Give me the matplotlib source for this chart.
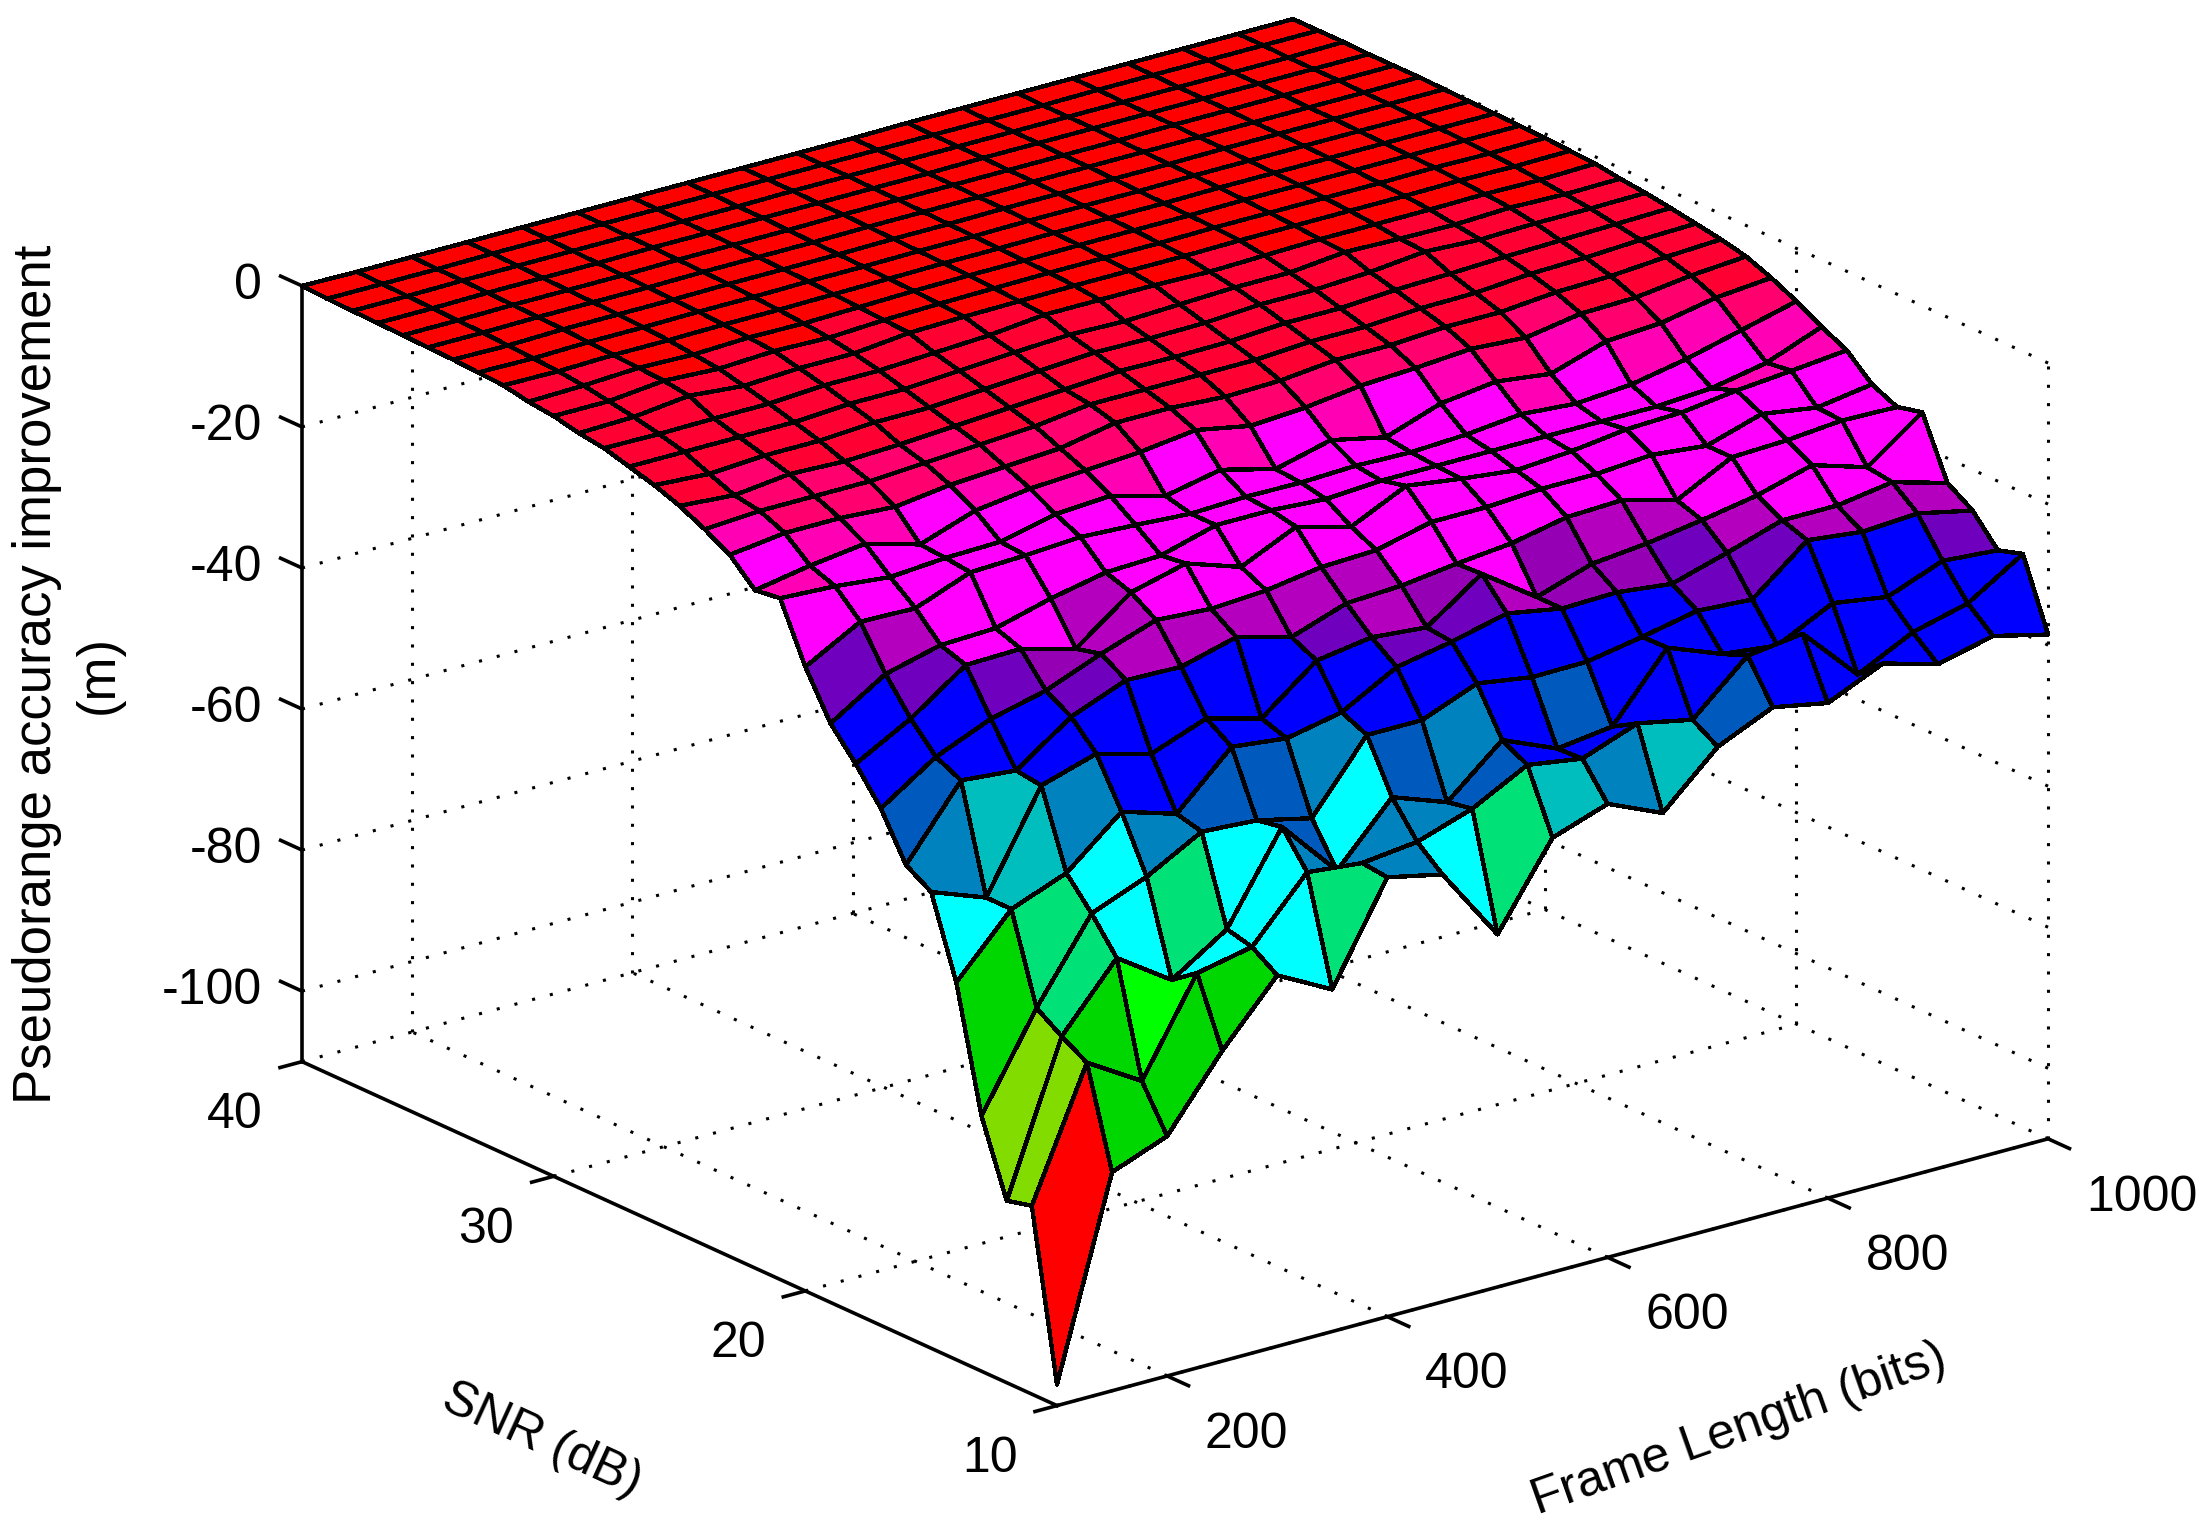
"""Pseudorange accuracy improvement over frame length and SNR, MATLAB style surface."""
import numpy as np
import matplotlib
matplotlib.use("Agg")
import matplotlib.pyplot as plt
from matplotlib.colors import BoundaryNorm, ListedColormap
from mpl_toolkits.mplot3d import proj3d

frame_length = [100, 150, 200, 250, 300, 350, 400, 450, 500, 550, 600, 650, 700, 750, 800, 850, 900, 950, 1000]
snr = [10, 11, 12, 13, 14, 15, 16, 17, 18, 19, 20, 21, 22, 23, 24, 25, 26, 27, 28, 29, 30,
       31, 32, 33, 34, 35, 36, 37, 38, 39, 40]

# one row per SNR value, one column per frame length
improvement = [
    [-107, -79, -76, -66, -57.4, -61.5, -47.7, -49.4, -60, -48.4, -45.7, -49.1, -41.8, -38.3, -39.8, -36.3, -38.5, -36.6, -38.5],
    [-83.3, -65.1, -69.8, -56.6, -55, -46.5, -47.3, -46.4, -43.8, -39.7, -40.9, -38, -39.6, -32.6, -31.6, -39.5, -35.6, -33.6, -28.7],
    [-84.2, -63, -54, -59.2, -54.1, -41.7, -50, -41.7, -44.5, -37.8, -41.1, -40.1, -31, -34, -34.9, -31, -32.2, -29.2, -29.8],
    [-73.8, -60.6, -49.3, -46.2, -41.9, -42.4, -44.2, -34.5, -34.5, -31.4, -32.6, -32.5, -31.1, -29.5, -30, -23.7, -24.6, -24.1, -25.8],
    [-56.5, -48.2, -45.2, -38.6, -41, -33.6, -34.5, -32.9, -28.6, -27.1, -25.2, -26.6, -26.4, -27.3, -25, -22.5, -22.5, -21.3, -23.5],
    [-45.3, -48.2, -34.4, -32, -34.1, -31.2, -33.3, -27.2, -26, -26.7, -21.2, -26.6, -24, -23.2, -22, -20.6, -18.4, -20.8, -15.1],
    [-43.1, -33.2, -33.9, -28.4, -25.3, -25.5, -23.4, -25.5, -22.8, -22.4, -21.4, -20.6, -19, -18.7, -20.8, -16.8, -16.5, -15.8, -16],
    [-36.7, -31.5, -28.2, -26.3, -23.2, -20.5, -21, -20.5, -19.3, -19, -17.1, -17.1, -16.6, -16.6, -16, -16.8, -14.4, -15.6, -14.4],
    [-32, -27.7, -22.2, -22, -24.1, -18.2, -16.2, -18.8, -15.2, -17.3, -13.6, -14.7, -15.6, -15, -14, -13.7, -12.7, -12, -11.2],
    [-27.9, -23, -21, -20.7, -18.6, -17, -16.7, -14.5, -14.5, -15, -14.5, -14.5, -14.5, -14.5, -14.5, -14.5, -14, -12.5, -9.5],
    [-21.5, -17.2, -17.4, -14.4, -14.1, -13.6, -14, -14.5, -14.2, -14.3, -14, -14.2, -13.8, -13, -13.6, -13, -11.5, -9.5, -7.5],
    [-13.4, -13.8, -14.6, -14, -13.8, -12, -11.5, -13.6, -12, -14, -12, -13.7, -11, -10, -11, -8.5, -8, -6.5, -5.8],
    [-13.9, -12.5, -11.5, -13.7, -11, -10, -9.5, -9, -8, -9.5, -9, -8, -7.6, -7, -7.5, -6.2, -6, -5, -4.4],
    [-10.5, -9.5, -9.5, -10, -9, -8.5, -8, -6.5, -6.5, -7, -6.8, -6, -6, -5.5, -5.5, -4.8, -4.6, -4, -3.6],
    [-8.5, -8, -8, -8, -7.5, -7, -6.5, -5.5, -5.5, -5.5, -5.5, -5, -5, -4.5, -4.4, -3.8, -3.6, -3.2, -3],
    [-6.8, -7.4, -6.5, -6.8, -6.5, -6, -5.5, -5, -4.5, -4.6, -4.5, -4, -4, -3.5, -3.3, -3, -2.8, -2.6, -2.4],
    [-5.5, -6, -5.5, -5.5, -5, -5, -4.5, -4, -3.5, -3.6, -3.5, -3, -3, -2.6, -1.8, -2.2, -2, -2, -1.9],
    [-4.5, -4.5, -4.5, -4.5, -4, -4, -3.5, -3, -2.6, -2.8, -2.5, -2.2, -2.2, -1.4, -1.6, -1.7, -1.4, -1.6, -1.5],
    [-3.5, -3.6, -3.5, -3.5, -3, -3, -2.6, -2.2, -1.4, -1.4, -1.4, -1.6, -1.4, -1.2, -1.2, -1.2, -1.1, -1.2, -1],
    [-3, -2.8, -1.9, -2.6, -2.2, -2.2, -1.4, -1.2, -1.1, -1, -1, -1, -0.9, -0.9, -0.9, -0.9, -0.8, -0.9, -0.8],
    [-2.2, -2.2, -1.4, -1.8, -1.4, -1.6, -1.2, -1, -0.9, -0.8, -0.8, -0.8, -0.7, -0.7, -0.7, -0.7, -0.6, -0.7, -0.6],
    [-1.8, -1.6, -1.2, -1.4, -1.1, -1.2, -1, -0.8, -0.7, -0.7, -0.6, -0.6, -0.6, -0.5, -0.5, -0.5, -0.5, -0.5, -0.5],
    [-1.1, -1.2, -1, -1, -0.9, -0.9, -0.8, -0.7, -0.6, -0.6, -0.5, -0.5, -0.5, -0.4, -0.4, -0.4, -0.4, -0.4, -0.4],
    [-0.9, -1, -0.8, -0.8, -0.7, -0.7, -0.6, -0.6, -0.5, -0.5, -0.4, -0.4, -0.4, -0.3, -0.3, -0.3, -0.3, -0.3, -0.3],
    [-0.7, -0.8, -0.6, -0.6, -0.6, -0.5, -0.5, -0.5, -0.4, -0.4, -0.3, -0.3, -0.3, -0.3, -0.2, -0.2, -0.2, -0.2, -0.2],
    [-0.6, -0.6, -0.5, -0.5, -0.5, -0.4, -0.4, -0.4, -0.3, -0.3, -0.3, -0.2, -0.2, -0.2, -0.2, -0.2, -0.2, -0.2, -0.1],
    [-0.5, -0.5, -0.4, -0.4, -0.4, -0.3, -0.3, -0.3, -0.2, -0.2, -0.2, -0.2, -0.2, -0.2, -0.1, -0.1, -0.1, -0.1, -0.1],
    [-0.4, -0.4, -0.3, -0.3, -0.3, -0.2, -0.2, -0.2, -0.2, -0.2, -0.2, -0.1, -0.1, -0.1, -0.1, -0.1, -0.1, -0.1, -0.1],
    [-0.3, -0.3, -0.2, -0.2, -0.2, -0.2, -0.2, -0.2, -0.1, -0.1, -0.1, -0.1, -0.1, -0.1, -0.1, -0.1, -0.1, -0.1, 0],
    [-0.2, -0.2, -0.2, -0.1, -0.1, -0.1, -0.1, -0.1, -0.1, -0.1, -0.1, -0.1, -0.1, -0.1, 0, 0, 0, 0, 0],
    [0, -0.1, -0.1, -0.1, -0.1, -0.1, -0.1, -0.1, -0.1, -0.1, -0.1, 0, 0, 0, 0, 0, 0, 0, 0],
]

x_ticks = [200, 400, 600, 800, 1000]
y_ticks = [10, 20, 30, 40]
z_ticks = [0, -20, -40, -60, -80, -100]

# colour bins, low to high
level_edges = [-120, -100, -80, -72, -68, -64, -59, -49.2, -47.9, -44, -41, -30, -27, -26, -22.5,
               -13.5, -10, -7, -1.5, 1]
level_colors = ["#ff0000", "#82dc00", "#00d700", "#00ff00", "#00d700", "#00e178", "#00ffff", "#00bebe",
                "#0082be", "#005abe", "#0000ff", "#6e00be", "#9600b4", "#b400be", "#ff00ff",
                "#ff00b4", "#ff006e", "#ff0032", "#ff0000"]

XMIN, XMAX = 100, 1000
YMIN, YMAX = 10, 40
ZMIN, ZMAX = -110, 0

plt.rcParams["font.family"] = ["Liberation Sans", "DejaVu Sans"]
FS = 36

X, Y = np.meshgrid(frame_length, snr)
Z = np.array(improvement, dtype=float)
cmap = ListedColormap(level_colors)
norm = BoundaryNorm(level_edges, cmap.N)

W, H = 2204, 1529
fig = plt.figure(figsize=(W / 100, H / 100), dpi=100)
# square axes wider than the figure is tall, mplot3d clips to this box
rect_h = W / H
rect_y = (1 - rect_h) / 2
ax = fig.add_axes([0, rect_y, 1, rect_h], projection="3d", computed_zorder=False)
ax.set_proj_type("ortho")
ax.view_init(elev=20.5, azim=-127.55)
ax.set_xlim(XMIN, XMAX, view_margin=0)
ax.set_ylim(YMIN, YMAX, view_margin=0)
ax.set_zlim(ZMIN, ZMAX, view_margin=0)
ax.set_xticks([])
ax.set_yticks([])
ax.set_zticks([])
ax.set_axis_off()
aspect = (889, 881, 589)
ax.set_box_aspect(aspect)


def to_pixels(x, y, z):
    px, py, _ = proj3d.proj_transform(x, y, z, ax.get_proj())
    return ax.transData.transform((px, py))


# fit the box to the corners of the reference
front_target = np.array([1057.0, H - 1405.6])
right_target = np.array([2048.0, H - 1138.5])
ax.apply_aspect()
front = to_pixels(XMIN, YMIN, ZMIN)
right = to_pixels(XMAX, YMIN, ZMIN)
zoom = np.linalg.norm(right_target - front_target) / np.linalg.norm(right - front)
ax.set_box_aspect(aspect, zoom=zoom)
shift = front_target - to_pixels(XMIN, YMIN, ZMIN)
ax.set_position([shift[0] / W, rect_y + shift[1] / H, 1, rect_h])
ax.apply_aspect()

dotted = dict(color="k", lw=2.2, ls=(0, (1, 5)), zorder=1)
for t in x_ticks:
    ax.plot([t, t], [YMIN, YMAX], [ZMIN, ZMIN], **dotted)
    ax.plot([t, t], [YMAX, YMAX], [ZMIN, ZMAX], **dotted)
for t in y_ticks:
    ax.plot([XMIN, XMAX], [t, t], [ZMIN, ZMIN], **dotted)
    ax.plot([XMAX, XMAX], [t, t], [ZMIN, ZMAX], **dotted)
for t in z_ticks:
    ax.plot([XMIN, XMAX], [YMAX, YMAX], [t, t], **dotted)
    ax.plot([XMAX, XMAX], [YMIN, YMAX], [t, t], **dotted)

ax.plot_surface(X, Y, Z, rstride=1, cstride=1, facecolors=cmap(norm(Z)), shade=False,
                edgecolor="k", linewidth=2.4, antialiased=False, zorder=2)

solid = dict(color="k", lw=2.6, zorder=3, solid_capstyle="projecting")
ax.plot([XMIN, XMAX], [YMIN, YMIN], [ZMIN, ZMIN], **solid)
ax.plot([XMIN, XMIN], [YMIN, YMAX], [ZMIN, ZMIN], **solid)
ax.plot([XMIN, XMIN], [YMAX, YMAX], [ZMIN, ZMAX], **solid)

tick = dict(color="k", lw=2.6, zorder=3)
for t in x_ticks:
    ax.plot([t, t], [YMIN, YMIN - 0.85], [ZMIN, ZMIN], **tick)
    ax.text(t, YMIN - 1.5, ZMIN - 5.9, str(t), ha="left", va="center", fontsize=FS)
for t in y_ticks:
    ax.plot([XMIN, XMIN - 20], [t, t], [ZMIN, ZMIN], **tick)
    ax.text(XMIN - 61, t, ZMIN - 5, str(t), ha="center", va="center", fontsize=FS)
for t in z_ticks:
    ax.plot([XMIN, XMIN], [YMAX, YMAX + 0.85], [t, t], **tick)
    ax.text(XMIN - 36, YMAX, t + 1.5, str(t), ha="right", va="center", fontsize=FS)

# text angle in mplot3d comes from zdir, the small z part tilts the label past the box edge
ax.text(550, 2.57, -120.2, "Frame Length (bits)", zdir=(1, 0, 0.0132), ha="center", va="center", fontsize=FS)
ax.text(-25, 25, -134, "SNR (dB)", zdir=(0, -1, 0), ha="center", va="center", fontsize=FS)
ax.text(-113, YMAX, -46.1, "Pseudorange accuracy improvement\n(m)", zdir="z",
        ha="center", va="center", multialignment="center", linespacing=1.3, fontsize=38)

fig.savefig("out.png", dpi=100)
